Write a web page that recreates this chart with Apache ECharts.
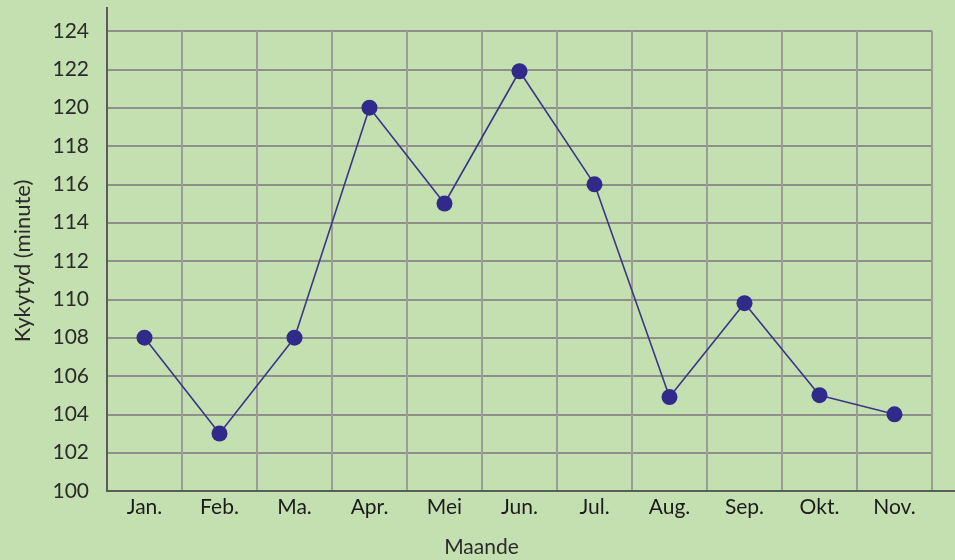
<!DOCTYPE html>
<html>
<head>
<meta charset="utf-8">
<script src="https://cdn.jsdelivr.net/npm/echarts@6/dist/echarts.min.js"></script>
<style>
  html, body { margin: 0; padding: 0; background: #c5e0b0; }
  #chart { width: 955px; height: 560px; }
</style>
</head>
<body>
<div id="chart"></div>
<script>
// Monthly waiting time (minutes)
var months = ['Jan.', 'Feb.', 'Ma.', 'Apr.', 'Mei', 'Jun.', 'Jul.', 'Aug.', 'Sep.', 'Okt.', 'Nov.'];
var minutes = [108, 103, 108, 120, 115, 121.9, 116, 104.9, 109.8, 105, 104];
var yMin = 100, yMax = 124, yStep = 2;

var chart = echarts.init(document.getElementById('chart'));
var font = 'Lato, "Open Sans", sans-serif';

chart.setOption({
  backgroundColor: '#c5e0b0',
  animation: false,
  grid: { left: 107, right: 23, top: 31, bottom: 69, containLabel: false, outerBoundsMode: 'none' },
  xAxis: {
    type: 'category',
    data: months,
    boundaryGap: true,
    name: 'Maande',
    nameLocation: 'middle',
    nameGap: 46,
    nameTextStyle: { fontFamily: font, fontSize: 21, color: '#2b2b2b', padding: [0, 76, 0, 0] },
    axisLine: { show: false },
    axisTick: { show: false },
    axisLabel: { fontFamily: font, fontSize: 21, color: '#1c1c1c', margin: 6 },
    splitLine: { show: true, lineStyle: { color: '#9a9e96', width: 2 } }
  },
  yAxis: {
    type: 'value',
    min: yMin,
    max: yMax,
    interval: yStep,
    name: 'Kykytyd (minute)',
    nameLocation: 'middle',
    nameGap: 73,
    nameTextStyle: { fontFamily: font, fontSize: 22, color: '#2b2b2b' },
    axisLine: { show: false },
    axisTick: { show: false },
    axisLabel: { fontFamily: font, fontSize: 21, color: '#2b2b2b', margin: 18 },
    splitLine: { show: true, lineStyle: { color: '#8d918a', width: 2 } }
  },
  graphic: [
    // Axis lines drawn past the plot area
    { type: 'line', shape: { x1: 107, y1: 7, x2: 107, y2: 492 }, style: { stroke: '#5a5e58', lineWidth: 2 }, z: 10 },
    { type: 'line', shape: { x1: 106, y1: 491, x2: 955, y2: 491 }, style: { stroke: '#5a5e58', lineWidth: 2 }, z: 10 }
  ],
  series: [{
    type: 'line',
    data: minutes,
    symbol: 'circle',
    symbolSize: 16,
    z: 20,
    lineStyle: { color: '#3b3588', width: 1.6 },
    itemStyle: { color: '#302a8a', borderWidth: 0 }
  }]
});
</script>
</body>
</html>
